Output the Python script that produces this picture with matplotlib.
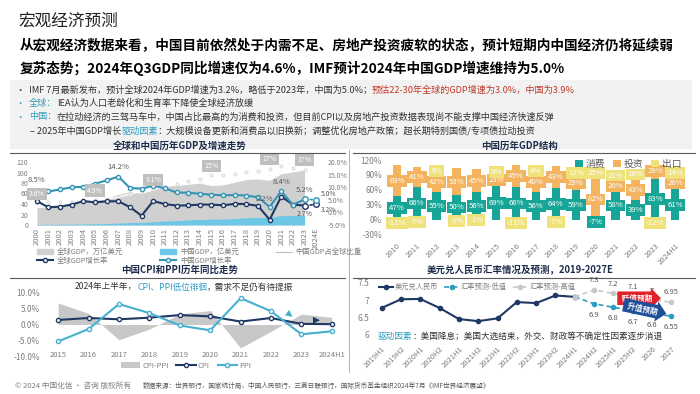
import matplotlib
matplotlib.use("Agg")
import matplotlib.pyplot as plt
import numpy as np
from matplotlib.patches import Rectangle, Patch
from matplotlib.lines import Line2D

plt.rcParams['font.family'] = ['Noto Sans CJK SC', 'DejaVu Sans']

W, H = 700, 394

# ---------------- data ----------------
gdp_years = ['2000', '2001', '2002', '2003', '2004', '2005', '2006', '2007', '2008', '2009',
             '2010', '2011', '2012', '2013', '2014', '2015', '2016', '2017', '2018', '2019',
             '2020', '2021', '2022', '2023', '2024E']
world_gdp = [33.8, 33.6, 34.9, 39.1, 43.8, 47.7, 51.6, 58.1, 63.7, 60.4, 66.6, 73.8, 75.5,
             77.6, 79.7, 75.2, 76.5, 81.4, 86.6, 87.7, 85.1, 97.5, 101.0, 105.0]
china_gdp = [1.21, 1.34, 1.47, 1.66, 1.96, 2.29, 2.75, 3.55, 4.59, 5.10, 6.09, 7.55, 8.53,
             9.57, 10.48, 11.06, 11.23, 12.31, 13.89, 14.28, 14.69, 17.82, 17.88, 17.79]
china_share = [3.6, 4.0, 4.3, 4.3, 4.5, 4.8, 5.3, 6.1, 7.2, 8.5, 9.1, 10.2, 11.3, 12.3, 13.1,
               14.7, 14.7, 15.1, 16.0, 16.3, 17.3, 18.3, 17.7, 16.9]
world_growth = [4.5, 2.0, 2.3, 3.1, 4.5, 4.0, 4.4, 4.4, 2.1, -1.3, 4.5, 3.3, 2.7, 2.8, 3.1,
                3.1, 2.8, 3.4, 3.3, 2.6, -2.9, 6.3, 3.1, 2.7, 3.2]
china_growth = [8.5, 8.3, 9.1, 10.0, 10.1, 11.4, 12.7, 14.2, 9.7, 9.4, 10.6, 9.6, 7.9, 7.8,
                7.4, 7.0, 6.8, 6.9, 6.7, 6.0, 2.2, 8.4, 3.0, 5.2, 5.0]
share_labels = {0: '3.6%', 5: '4.9%', 10: '9.1%', 15: '15%', 20: '17%', 23: '17%'}

struct_years = ['2010', '2011', '2012', '2013', '2014', '2015', '2016', '2017', '2018',
                '2019', '2020', '2021', '2022', '2023', '2024H1']
consumption = [47, 66, 55, 50, 56, 69, 66, 56, 64, 59, -7, 58, 39, 83, 61]
investment = [63, 41, 42, 53, 45, 23, 45, 40, 43, 29, 82, 20, 43, 29, 26]
export = [-11, -7, 3, -3, -1, 8, -11, 4, -7, 12, 25, 22, 18, -12, 14]

cpi_years = ['2015', '2016', '2017', '2018', '2019', '2020', '2021', '2022', '2023', '2024H1']
cpi = [1.4, 2.0, 1.6, 2.1, 2.9, 2.5, 0.9, 2.0, 0.2, 0.1]
ppi = [-5.2, -1.4, 6.3, 3.5, -0.3, -1.8, 8.1, 4.1, -3.0, -2.1]

fx_periods = ['2019H1', '2019H2', '2020H1', '2020H2', '2021H1', '2021H2', '2022H1', '2022H2',
              '2023H1', '2023H2', '2024H1', '2024H2', '2025H1', '2025H2', '2026', '2027']
fx_actual = [6.78, 7.03, 7.04, 6.78, 6.46, 6.40, 6.48, 6.95, 6.92, 7.14, 7.10]
fx_high = [7.10, 7.3, 7.2, 7.1, 7.0, 6.95]
fx_low = [7.10, 6.9, 6.8, 6.7, 6.6, 6.55]

NAVY = '#1f3864'
TEAL = '#3494b4'
GRAY_TXT = '#7f7f7f'

fig = plt.figure(figsize=(7, 3.94), dpi=100)
renderer = fig.canvas.get_renderer()


def fx(x):
    return x / W


def fy(y):
    return 1 - y / H


def px_axes(x0, y0, x1, y1):
    return fig.add_axes([x0 / W, 1 - y1 / H, (x1 - x0) / W, (y1 - y0) / H])


def rich(x, y, parts, size, weight='normal'):
    for s, c in parts:
        t = fig.text(fx(x), fy(y), s, color=c, fontsize=size, va='center', weight=weight)
        x += t.get_window_extent(renderer=renderer).width


def clean(ax):
    for s in ax.spines.values():
        s.set_visible(False)
    ax.tick_params(length=0, labelsize=5.5, labelcolor=GRAY_TXT, pad=2)


# ---------------- header ----------------
fig.text(fx(18), fy(21), '宏观经济预测', fontsize=12, color='#222222', va='center')
fig.text(fx(20), fy(46), '从宏观经济数据来看，中国目前依然处于内需不足、房地产投资疲软的状态，预计短期内中国经济仍将延续弱',
         fontsize=9.8, weight='bold', va='center')
fig.text(fx(20), fy(68), '复苏态势；2024年Q3GDP同比增速仅为4.6%，IMF预计2024年中国GDP增速维持为5.0%',
         fontsize=9.8, weight='bold', va='center')

fig.patches.append(Rectangle((fx(10), fy(149)), 682 / W, 69 / H, transform=fig.transFigure,
                             fc='#f2f2f2', ec='none', zorder=-5))
BUL = 6.6
RED = '#c0392b'
BT = '#2e9cc0'
rich(16, 90, [('•  IMF 7月最新发布，预计全球2024年GDP增速为3.2%，略低于2023年，中国为5.0%；', '#333333'),
              ('预估22-30年全球的GDP增速为3.0%，中国为3.9%', RED)], BUL)
rich(16, 103, [('•  ', BT), ('全球：', BT), ('IEA认为人口老龄化和生育率下降使全球经济放缓', '#333333')], BUL)
rich(16, 117, [('•  ', BT), ('中国：', BT),
               ('在拉动经济的三驾马车中，中国占比最高的为消费和投资，但目前CPI以及房地产投资数据表现尚不能支撑中国经济快速反弹', '#333333')], BUL)
rich(30, 131, [('– 2025年中国GDP增长', '#333333'), ('驱动因素', BT),
               ('：大规模设备更新和消费品以旧换新；调整优化房地产政策；超长期特别国债/专项债拉动投资', '#333333')], BUL)

# panel titles and rules
for x, y, s in [(180, 146, '全球和中国历年GDP及增速走势'), (520, 146, '中国历年GDP结构'),
                (180, 270, '中国CPI和PPI历年同比走势'), (520, 270, '美元兑人民币汇率情况及预测，2019-2027E')]:
    fig.text(fx(x), fy(y), s, fontsize=6.8, weight='bold', color='#1f2d4d', ha='center', va='center')
for y in (153, 278):
    fig.lines.append(Line2D([fx(10), fx(345)], [fy(y), fy(y)], transform=fig.transFigure, color='#595959', lw=0.8))
    fig.lines.append(Line2D([fx(353), fx(695)], [fy(y), fy(y)], transform=fig.transFigure, color='#595959', lw=0.8))
fig.lines.append(Line2D([fx(349), fx(349)], [fy(150), fy(372)], transform=fig.transFigure, color='#a6a6a6', lw=0.6))

# ---------------- chart 1: GDP ----------------
ax1 = px_axes(31, 162, 322, 225)
x1 = np.arange(len(gdp_years))
xa = x1[:len(world_gdp)]
ax1.fill_between(xa, world_gdp, color='#d0d0d0', lw=0)
ax1.fill_between(xa, china_gdp, color='#6cc8e6', lw=0)
ax1.set_ylim(0, 120)
ax1.set_yticks(range(0, 121, 20))
ax1.set_xlim(-0.5, len(gdp_years) - 0.5)
ax1.set_xticks(x1)
ax1.set_xticklabels(gdp_years, rotation=90, fontsize=4.8)
clean(ax1)
ax1.tick_params(axis='y', labelsize=5)

ax1b = ax1.twinx()
ax1b.set_ylim(-5, 20)
ax1b.set_yticks([-5, 0, 5, 10, 15, 20])
ax1b.set_yticklabels(['-5.0%', '0.0%', '5.0%', '10.0%', '15.0%', '20.0%'])
clean(ax1b)
ax1b.tick_params(axis='y', labelsize=5, pad=4)
ax1b.plot(xa, china_share, color='white', lw=1, marker='o', ms=2, mfc='white', mec='#e0e0e0')
ax1b.plot(x1[:-1], world_growth[:-1], color=NAVY, lw=1.5, marker='o', ms=3, mfc='white', mec=NAVY)
ax1b.plot(x1[-2:], world_growth[-2:], color=NAVY, lw=1.2, ls=(0, (2, 1)), marker='o', ms=4, mfc='white', mec=NAVY)
ax1b.plot(x1[:-1], china_growth[:-1], color=TEAL, lw=1.5, marker='o', ms=3, mfc='white', mec=TEAL)
ax1b.plot(x1[-2:], china_growth[-2:], color=TEAL, lw=1.2, ls=(0, (2, 1)), marker='o', ms=4, mfc='white', mec=TEAL)
for i, s in share_labels.items():
    ax1b.annotate(s, (i, china_share[i]), xytext=(0, 7), textcoords='offset points', ha='center',
                  va='center', fontsize=5, color='white',
                  bbox=dict(boxstyle='square,pad=0.3', fc='#bfbfbf', ec='none'))
for i, dx, dy in [(0, 0, 8), (7, 0, 7), (20, -4, 6), (21, 0, 7), (23, 0, 7)]:
    ax1b.annotate(f'{china_growth[i]:.1f}%', (i, china_growth[i]), xytext=(dx, dy),
                  textcoords='offset points', ha='center', va='center', fontsize=5.5, color='#595959')
ax1b.annotate(f'{china_growth[24]:.1f}%', (24, china_growth[24]), xytext=(3, 4),
              textcoords='offset points', ha='left', va='center', fontsize=4.8, color='#595959')
ax1b.annotate(f'{world_growth[23]:.1f}%', (23, world_growth[23]), xytext=(0, -6),
              textcoords='offset points', ha='center', va='center', fontsize=5, color='#595959')
ax1b.annotate(f'{world_growth[24]:.1f}%', (24, world_growth[24]), xytext=(3, -4),
              textcoords='offset points', ha='left', va='center', fontsize=4.8, color='#595959')

h = [Patch(color='#d0d0d0'), Line2D([], [], color=NAVY, lw=1.5, marker='o', ms=3, mfc='white'),
     Patch(color='#6cc8e6'), Line2D([], [], color=TEAL, lw=1.5, marker='o', ms=3, mfc='white'),
     Line2D([], [], color='#bfbfbf', lw=0.8)]
l = ['全球GDP，万亿美元', '全球GDP增长率', '中国GDP，亿美元', '中国GDP增长率', '中国GDP占全球比重']
fig.legend(h, l, loc='upper left', bbox_to_anchor=(fx(32), fy(243)), ncol=3, fontsize=5.3,
           frameon=False, handlelength=2.2, handleheight=0.5, columnspacing=5, labelspacing=0.05,
           handletextpad=0.5, labelcolor=GRAY_TXT, borderpad=0.2)

# ---------------- chart 2: GDP structure ----------------
ax2 = px_axes(385, 160, 687, 235)
x2 = np.arange(len(struct_years))
series = [('消费', consumption, '#17a597'), ('投资', investment, '#f4b35e'), ('出口', export, '#f0e27a')]
pos_base = np.zeros(len(x2))
neg_base = np.zeros(len(x2))
for name, vals, col in series:
    vals = np.array(vals, dtype=float)
    bottom = np.where(vals >= 0, pos_base, neg_base)
    ax2.bar(x2, vals, bottom=bottom, width=0.42, color=col, label=name)
    for i, v in enumerate(vals):
        ax2.text(i, bottom[i] + v / 2, f'{v:.0f}%', ha='center', va='center', fontsize=5.6,
                 color='white', bbox=dict(boxstyle='square,pad=0.25', fc=col, ec='none'))
    pos_base = pos_base + np.where(vals >= 0, vals, 0)
    neg_base = neg_base + np.where(vals < 0, vals, 0)
ax2.set_ylim(-30, 120)
ax2.set_yticks(range(-30, 121, 30))
ax2.set_yticklabels([f'{v}%' for v in range(-30, 121, 30)])
ax2.set_xlim(-0.6, len(x2) - 0.4)
ax2.set_xticks(x2)
ax2.set_xticklabels(struct_years, rotation=45, ha='right', rotation_mode='anchor', fontsize=5)
clean(ax2)
ax2.tick_params(axis='y', labelsize=6)
ax2.tick_params(axis='x', pad=5)
ax2.legend(loc='upper right', bbox_to_anchor=(1.01, 1.13), ncol=3, fontsize=7, frameon=False,
           handlelength=0.8, handleheight=0.8, columnspacing=0.8, handletextpad=0.3,
           labelcolor='#595959')

# ---------------- chart 3: CPI / PPI ----------------
ax3 = px_axes(43, 292, 347, 357)
x3 = np.arange(len(cpi_years))
diff = np.array(cpi) - np.array(ppi)
ax3.fill_between(x3, diff, 0, color='#c8c8c8', lw=0, label='CPI-PPI')
ax3.plot(x3, cpi, color=NAVY, lw=1.5, marker='o', ms=3, mfc='white', mec=NAVY, label='CPI')
ax3.plot(x3, ppi, color='#45b0d0', lw=1.5, marker='o', ms=3, mfc='white', mec='#45b0d0', label='PPI')
ax3.set_ylim(-10, 10)
ax3.set_yticks([-10, -5, 0, 5, 10])
ax3.set_yticklabels(['-10.0%', '-5.0%', '0.0%', '5.0%', '10.0%'])
ax3.set_xlim(-0.5, len(x3) - 0.5)
ax3.set_xticks(x3)
ax3.set_xticklabels(cpi_years, fontsize=5.5)
clean(ax3)
ax3.tick_params(axis='y', labelsize=6)
ax3.tick_params(axis='x', pad=-4)
ax3.annotate('', xy=(7.78, 1.8), xytext=(7.5, 3.9),
             arrowprops=dict(arrowstyle='simple,head_width=0.5,head_length=0.5,tail_width=0.25', color='#45b0d0', lw=0))
ax3.annotate('', xy=(8.7, 1.3), xytext=(8.4, 1.3),
             arrowprops=dict(arrowstyle='simple,head_width=0.5,head_length=0.5,tail_width=0.25', color=NAVY, lw=0))
ax3.legend(loc='upper center', bbox_to_anchor=(0.47, 0.0), ncol=3, fontsize=5.5, frameon=False,
           handlelength=2.5, columnspacing=1.0, handletextpad=0.3, labelcolor=GRAY_TXT, borderpad=0.1)
rich(75, 287, [('2024年上半年，', '#333333'), ('CPI、PPI低位徘徊', '#2e9cc0'), ('，需求不足仍有待提振', '#333333')], 6.2)

# ---------------- chart 4: USD/CNY ----------------
ax4 = px_axes(372, 283, 681, 335)
x4 = np.arange(len(fx_periods))
xf = x4[len(fx_actual) - 1:]
ax4.plot(x4[:len(fx_actual)], fx_actual, color=NAVY, lw=1.5, marker='o', ms=3, label='美元兑人民币')
ax4.plot(xf, fx_low, color='#2e9cc0', lw=1.2, ls=(0, (3, 2)), marker='o', ms=3, label='汇率预测-低值')
ax4.plot(xf, fx_high, color='#c8c8c8', lw=1.2, ls=(0, (3, 2)), marker='o', ms=3, label='汇率预测-高值')
for i in range(1, len(xf)):
    ax4.annotate(f'{fx_high[i]:g}', (xf[i], fx_high[i]), xytext=(0, 7), textcoords='offset points',
                 ha='center', va='center', fontsize=5.5, color='#595959')
    ax4.annotate(f'{fx_low[i]:g}', (xf[i], fx_low[i]), xytext=(0, -8), textcoords='offset points',
                 ha='center', va='center', fontsize=5.5, color='#595959')
ax4.text(13.2, 7.06, ' 贬值预期 ', ha='center', va='center', fontsize=5.5, color='white', weight='bold',
         bbox=dict(boxstyle='rarrow,pad=0.3', fc='#e0202a', ec='none'))
ax4.text(13.5, 6.76, ' 升值预期 ', ha='center', va='center', fontsize=5.5, color='white', weight='bold',
         rotation=-12, bbox=dict(boxstyle='rarrow,pad=0.3', fc='#1f4e99', ec='none'))
ax4.set_ylim(6, 7.5)
ax4.set_yticks([6, 6.5, 7, 7.5])
ax4.set_yticklabels(['6', '6.5', '7', '7.5'])
ax4.set_xlim(-0.5, len(x4) - 0.5)
ax4.set_xticks(x4)
ax4.set_xticklabels(fx_periods, rotation=45, ha='right', rotation_mode='anchor', fontsize=5)
clean(ax4)
ax4.tick_params(axis='y', labelsize=6)
ax4.tick_params(axis='x', pad=7)
ax4.legend(loc='upper left', bbox_to_anchor=(0.0, 1.12), ncol=3, fontsize=5.2, frameon=False,
           handlelength=2.0, columnspacing=0.8, handletextpad=0.3, labelcolor=GRAY_TXT)
rich(378, 336, [('驱动因素', '#2e9cc0'), ('：美国降息；美国大选结束，外交、财政等不确定性因素逐步消退', '#333333')], 6.2)

# ---------------- footer ----------------
fig.text(fx(15), fy(386), '© 2024 中国化信 • 咨询 版权所有', fontsize=5.5, color=GRAY_TXT, va='center')
fig.text(fx(143), fy(386), '数据来源：世界银行，国家统计局，中国人民银行，三菱日联银行，国际货币基金组织2024年7月《IMF世界经济展望》',
         fontsize=4.8, color='#595959', va='center')

fig.savefig('out.png', dpi=100)
